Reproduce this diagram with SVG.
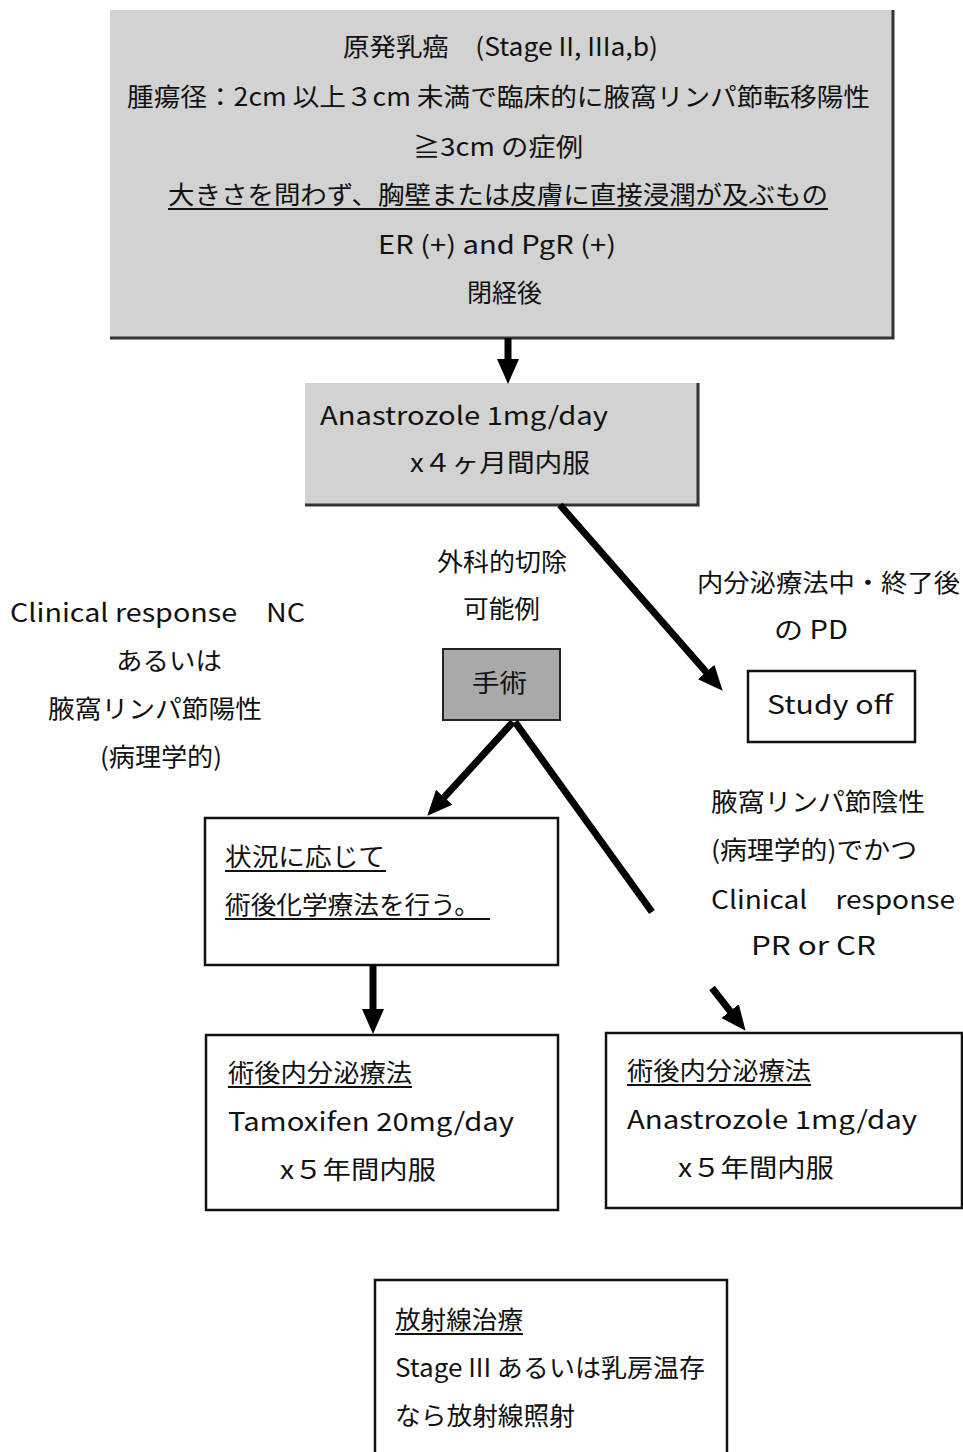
<svg xmlns="http://www.w3.org/2000/svg" width="963" height="1452" viewBox="0 0 963 1452">
<style>
text{font-family:"Noto Sans CJK JP","Liberation Sans",sans-serif;font-size:25px;fill:#111;}
.box{fill:#fff;stroke:#111;stroke-width:2.5;}
.shade{fill:#d2d2d2;stroke:none;}
.shade2{fill:#a9a9a9;stroke:#222;stroke-width:2;}
.edge{stroke:#333;stroke-width:3;fill:none;}
.ul{stroke:#111;stroke-width:2;}
.conn{stroke:#000;stroke-width:7;fill:none;}
</style>
<defs>
<marker id="ah" markerUnits="userSpaceOnUse" markerWidth="26" markerHeight="24" refX="8" refY="12" orient="auto">
<path d="M0,1 L25,12 L0,23 z" fill="#000"/>
</marker>
</defs>
<rect width="963" height="1452" fill="#fff"/>

<g id="criteria">
<rect class="shade" x="110" y="10" width="783" height="328"/>
<path class="edge" d="M893,10 V338 H110"/>
<text x="343" y="56" textLength="315" lengthAdjust="spacingAndGlyphs">原発乳癌　(Stage II, IIIa,b)</text>
<text x="127" y="106" textLength="743" lengthAdjust="spacingAndGlyphs">腫瘍径：2cm 以上３cm 未満で臨床的に腋窩リンパ節転移陽性</text>
<text x="413" y="156" textLength="170" lengthAdjust="spacingAndGlyphs">≧3cm の症例</text>
<text x="168" y="204" textLength="660" lengthAdjust="spacingAndGlyphs">大きさを問わず、胸壁または皮膚に直接浸潤が及ぶもの</text>
<line class="ul" x1="168" y1="209" x2="828" y2="209"/>
<text x="378" y="254" textLength="238" lengthAdjust="spacingAndGlyphs">ER (+) and PgR (+)</text>
<text x="467" y="302" textLength="75" lengthAdjust="spacingAndGlyphs">閉経後</text>
</g>

<g id="anastrozole4m">
<rect class="shade" x="305" y="383" width="393" height="122"/>
<path class="edge" d="M698,383 V505 H305"/>
<text x="320" y="425" textLength="288" lengthAdjust="spacingAndGlyphs">Anastrozole 1mg/day</text>
<text x="410" y="472" textLength="180" lengthAdjust="spacingAndGlyphs">x４ヶ月間内服</text>
</g>

<g id="label-resectable">
<text x="437" y="571" textLength="130" lengthAdjust="spacingAndGlyphs">外科的切除</text>
<text x="463" y="618" textLength="77" lengthAdjust="spacingAndGlyphs">可能例</text>
</g>

<g id="surgery">
<rect class="shade2" x="443" y="649" width="117" height="71"/>
<text x="472" y="692" textLength="55" lengthAdjust="spacingAndGlyphs">手術</text>
</g>

<g id="label-pd">
<text x="697" y="592" textLength="263" lengthAdjust="spacingAndGlyphs">内分泌療法中・終了後</text>
<text x="774" y="639" textLength="74" lengthAdjust="spacingAndGlyphs">の PD</text>
</g>

<g id="studyoff">
<rect class="box" x="748" y="671" width="167" height="71"/>
<text x="767" y="714" textLength="126" lengthAdjust="spacingAndGlyphs">Study off</text>
</g>

<g id="label-nc">
<text x="10" y="622" textLength="295" lengthAdjust="spacingAndGlyphs">Clinical response　NC</text>
<text x="116" y="670" textLength="106" lengthAdjust="spacingAndGlyphs">あるいは</text>
<text x="48" y="718" textLength="214" lengthAdjust="spacingAndGlyphs">腋窩リンパ節陽性</text>
<text x="100" y="766" textLength="122" lengthAdjust="spacingAndGlyphs">(病理学的)</text>
</g>

<g id="label-negative">
<text x="711" y="811" textLength="214" lengthAdjust="spacingAndGlyphs">腋窩リンパ節陰性</text>
<text x="711" y="859" textLength="206" lengthAdjust="spacingAndGlyphs">(病理学的)でかつ</text>
<text x="711" y="909" textLength="244" lengthAdjust="spacingAndGlyphs">Clinical　response</text>
<text x="751" y="955" textLength="125" lengthAdjust="spacingAndGlyphs">PR or CR</text>
</g>

<g id="chemo">
<rect class="box" x="205" y="818" width="353" height="147"/>
<text x="225" y="866" textLength="160" lengthAdjust="spacingAndGlyphs">状況に応じて</text>
<line class="ul" x1="225" y1="871" x2="386" y2="871"/>
<text x="225" y="914" textLength="255" lengthAdjust="spacingAndGlyphs">術後化学療法を行う。</text>
<line class="ul" x1="225" y1="919" x2="490" y2="919"/>
</g>

<g id="tamoxifen">
<rect class="box" x="206" y="1035" width="352" height="175"/>
<text x="228" y="1082" textLength="184" lengthAdjust="spacingAndGlyphs">術後内分泌療法</text>
<line class="ul" x1="228" y1="1087" x2="412" y2="1087"/>
<text x="228" y="1131" textLength="286" lengthAdjust="spacingAndGlyphs">Tamoxifen 20mg/day</text>
<text x="280" y="1179" textLength="156" lengthAdjust="spacingAndGlyphs">x５年間内服</text>
</g>

<g id="anastrozole5y">
<rect class="box" x="606" y="1033" width="356" height="175"/>
<text x="627" y="1080" textLength="184" lengthAdjust="spacingAndGlyphs">術後内分泌療法</text>
<line class="ul" x1="627" y1="1085" x2="811" y2="1085"/>
<text x="627" y="1129" textLength="290" lengthAdjust="spacingAndGlyphs">Anastrozole 1mg/day</text>
<text x="678" y="1177" textLength="156" lengthAdjust="spacingAndGlyphs">x５年間内服</text>
</g>

<g id="radiation">
<path class="box" d="M375,1452 V1280 H727 V1452" fill="#fff"/>
<text x="395" y="1329" textLength="128" lengthAdjust="spacingAndGlyphs">放射線治療</text>
<line class="ul" x1="395" y1="1334" x2="523" y2="1334"/>
<text x="395" y="1377" textLength="310" lengthAdjust="spacingAndGlyphs">Stage III あるいは乳房温存</text>
<text x="395" y="1425" textLength="180" lengthAdjust="spacingAndGlyphs">なら放射線照射</text>
</g>

<g id="connectors">
<line class="conn" x1="508" y1="338" x2="508" y2="367" marker-end="url(#ah)"/>
<line class="conn" x1="560" y1="505" x2="711.4" y2="678" marker-end="url(#ah)"/>
<line class="conn" x1="513" y1="722" x2="438.8" y2="803.2" marker-end="url(#ah)"/>
<line class="conn" x1="515" y1="722" x2="652" y2="912"/>
<line class="conn" x1="712" y1="988" x2="735.1" y2="1017.4" marker-end="url(#ah)"/>
<line class="conn" x1="373" y1="965" x2="373" y2="1017" marker-end="url(#ah)"/>
</g>
</svg>
